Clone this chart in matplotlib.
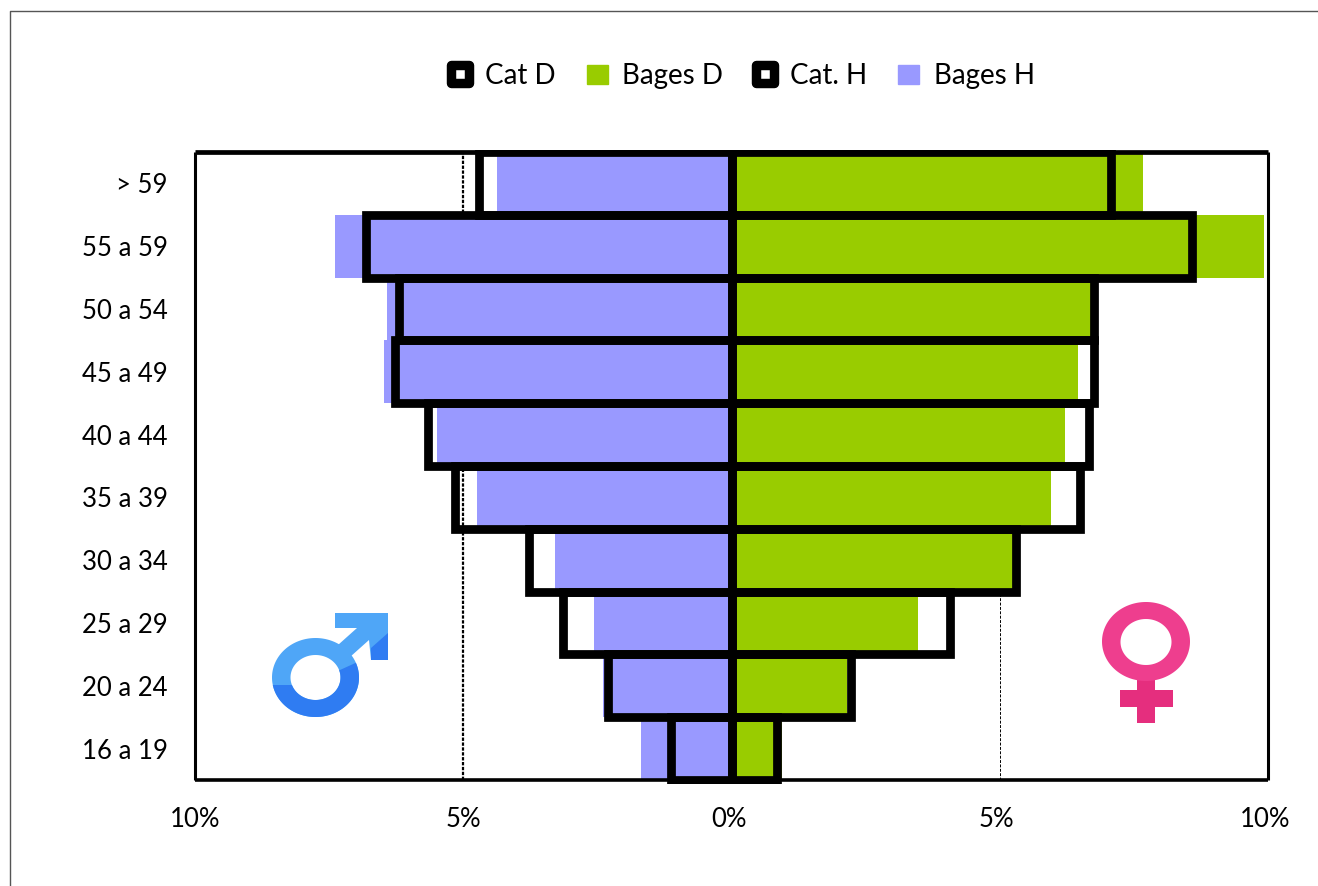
import matplotlib
matplotlib.use("Agg")
import matplotlib.pyplot as plt
from matplotlib.lines import Line2D
from matplotlib.patches import Patch, PathPatch, Rectangle, Polygon
from matplotlib.path import Path
from matplotlib.transforms import Affine2D, Bbox, IdentityTransform, TransformedBbox, ScaledTranslation
import numpy as np

ages = ["16 a 19", "20 a 24", "25 a 29", "30 a 34", "35 a 39",
        "40 a 44", "45 a 49", "50 a 54", "55 a 59", "> 59"]
bages_h = [1.69, 2.40, 2.56, 3.29, 4.74, 5.49, 6.48, 6.42, 7.39, 4.37]
bages_d = [0.95, 2.15, 3.48, 5.28, 5.96, 6.21, 6.46, 6.70, 9.93, 7.67]
cat_h = [1.12, 2.31, 3.14, 3.77, 5.15, 5.66, 6.27, 6.20, 6.81, 4.70]
cat_d = [0.84, 2.23, 4.07, 5.30, 6.50, 6.66, 6.76, 6.76, 8.58, 7.07]
xticks = [-10, -5, 0, 5, 10]
xticklabels = ["10%", "5%", "0%", "5%", "10%"]

W, H = 1318, 886
plt.rcParams["font.family"] = ["Lato", "DejaVu Sans"]
fig = plt.figure(figsize=(W / 100, H / 100), dpi=100, facecolor="white")
ax = fig.add_axes([195 / W, 1 - 780 / H, (1268 - 195) / W, (780 - 152) / H])
y = np.arange(len(ages))
GREEN, BLUE = "#99CC00", "#9999FF"

ax.axvline(-5, color="black", lw=1.6, ls=(0, (1.5, 0.7)), zorder=1)
ax.axvline(5, color="black", lw=0.7, ls=(0, (3, 1.5)), zorder=1)
ax.barh(y, [-v for v in bages_h], height=1.0, color=BLUE, zorder=2)
ax.barh(y, bages_d, height=1.0, color=GREEN, zorder=2)
clip = TransformedBbox(Bbox([[0, H - 784], [W, H - 149.5]]), IdentityTransform())
for vals, sign in ((cat_h, -1), (cat_d, 1)):
    bars = ax.barh(y, [sign * v for v in vals], height=1.0, facecolor="none",
                   edgecolor="black", linewidth=6.3, zorder=3, joinstyle="miter")
    for b in bars:
        b.set_clip_box(clip)

ax.set_xlim(-10, 10)
ax.set_ylim(-0.5, 9.5)
ax.set_yticks(y, ages)
ax.set_xticks(xticks, xticklabels)
ax.tick_params(axis="x", length=0, labelsize=18.5, pad=19.4)
ax.tick_params(axis="y", length=0, labelsize=18.5, pad=19.5)
shift = ScaledTranslation(-3 / 100, 0, fig.dpi_scale_trans)
for lab in ax.get_xticklabels()[2:]:
    lab.set_transform(lab.get_transform() + shift)
down = ScaledTranslation(0, -2.5 / 100, fig.dpi_scale_trans)
for lab in ax.get_yticklabels():
    lab.set_verticalalignment("center")
    lab.set_transform(lab.get_transform() + down)
widths = {"top": 3.4, "bottom": 2.6, "left": 2.2, "right": 2.2}
for k, s in ax.spines.items():
    s.set_linewidth(widths[k])
    s.set_zorder(4)
    s.set_capstyle("butt")

m = Path([(-1, -1), (1, -1), (1, 1), (-1, 1), (-1, -1)], closed=True)
outline_kw = dict(ls="", marker=m, ms=13.3, mfc="white", mec="black", mew=6.8)
handles = [Line2D([], [], **outline_kw), Patch(color=GREEN),
           Line2D([], [], **outline_kw), Patch(color=BLUE)]
fig.legend(handles, ["Cat D", "Bages D", "Cat. H", "Bages H"], ncol=4,
           loc="center", bbox_to_anchor=(742 / W, 1 - 76 / H), frameon=False,
           fontsize=20, handlelength=0.75, handleheight=0.7, handletextpad=0.525,
           columnspacing=1.125, borderpad=0)

# pixel-space overlay: chart-area border and gender symbols
px = Affine2D().scale(1, -1).translate(0, H)
def add(p):
    p.set_transform(px)
    p.set_clip_on(False)
    fig.add_artist(p)
    return p

def ring(cx, cy, rx, ry, hx, hy, hcy):
    t = np.linspace(0, 2 * np.pi, 181)
    o = np.c_[cx + rx * np.cos(t), cy + ry * np.sin(t)]
    i = np.c_[cx + hx * np.cos(t[::-1]), hcy + hy * np.sin(t[::-1])]
    codes = [Path.MOVETO] + [Path.LINETO] * 180
    return Path(np.vstack([o, i]), codes + codes)

add(Line2D([9.5, 9.5, W], [H, 10.5, 10.5], color="#555555", lw=1))

# male
LIGHT, DARK = "#4FA6F7", "#2F7CF2"
add(Polygon([(335, 613), (388, 613), (388, 660), (371, 660), (369, 640),
             (350, 657), (338, 645), (357, 628), (335, 628)],
            closed=True, fc=LIGHT, ec="none"))
add(Polygon([(388, 633), (388, 660), (371, 660), (371, 648)],
            closed=True, fc=DARK, ec="none"))
male = ring(315.5, 677.5, 43.5, 39.5, 25, 22.5, 677.5)
add(PathPatch(male, fc=LIGHT, ec="none"))
dark = add(PathPatch(male, fc=DARK, ec="none"))
low = Polygon([(268, 685), (292, 685), (340, 670), (362, 660), (362, 722), (268, 722)],
              closed=True, transform=px)
dark.set_clip_on(True)
dark.set_clip_path(low)

# female
PINK, PINK2 = "#EE3E8E", "#E52E7E"
add(Rectangle((1137, 675), 18, 48, fc=PINK2, ec="none"))
add(Rectangle((1120, 689.5), 53, 17.5, fc=PINK2, ec="none"))
add(PathPatch(ring(1146, 641.5, 44, 39.5, 25.5, 23, 642), fc=PINK, ec="none"))

fig.savefig("out.png", dpi=100, facecolor="white")
